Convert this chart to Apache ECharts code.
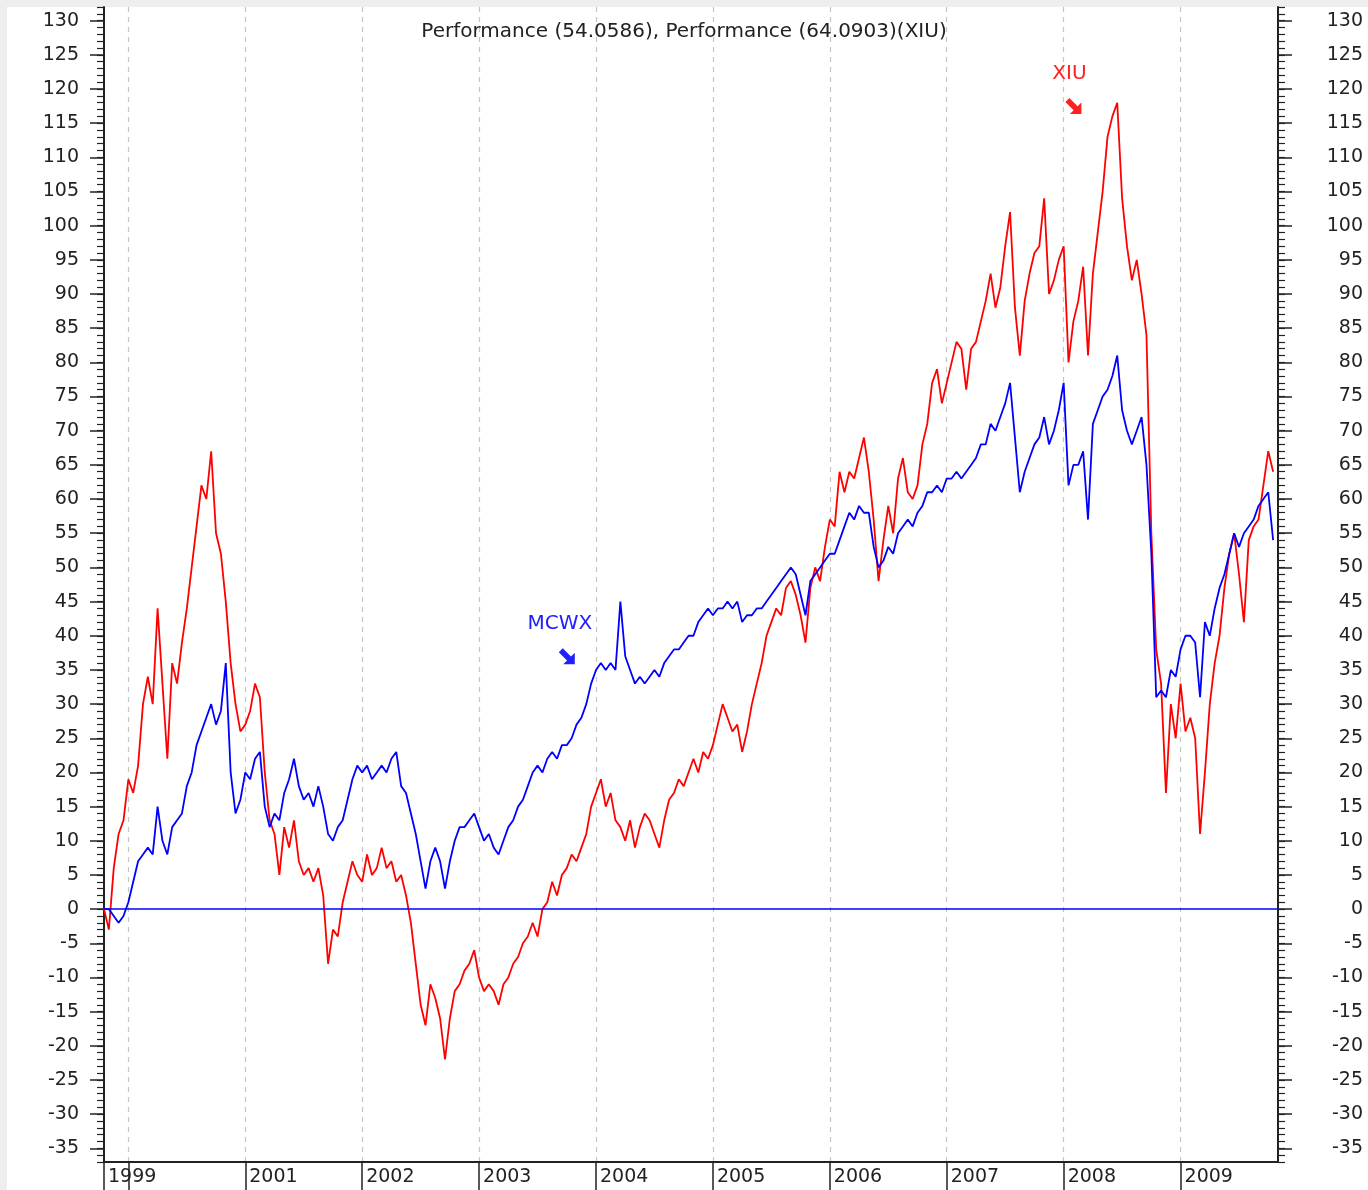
<!DOCTYPE html>
<html>
<head>
<meta charset="utf-8">
<script src="https://cdn.jsdelivr.net/npm/echarts@6.0.0/dist/echarts.min.js"></script>
<style>html,body{margin:0;padding:0;background:#fff;}#chart{width:1368px;height:1190px;}</style>
</head>
<body>
<div id="chart"></div>
<script>
// ---- DATA ----
// semi-monthly sample dates (1st and 16th of each month), Oct 1999 .. Nov 2009
var dates = [];
(function(){ var y=1999,m=10,d=16; while(dates.length<242){ dates.push(y+'-'+(m<10?'0':'')+m+'-'+(d<10?'0':'')+d); if(d===1){d=16;}else{d=1;m++; if(m>12){m=1;y++;}} } })();

var xiu = [0,-3,6,11,13,19,17,21,30,34,30,44,33,22,36,33,39,44,50,56,62,60,67,55,52,45,36,30,26,27,
29,33,31,20,13,11,5,12,9,13,7,5,6,4,6,2,-8,-3,-4,1,4,7,5,4,8,5,6,9,6,7,
4,5,2,-2,-8,-14,-17,-11,-13,-16,-22,-16,-12,-11,-9,-8,-6,-10,-12,-11,-12,-14,-11,-10,-8,-7,-5,-4,-2,-4,
0,1,4,2,5,6,8,7,9,11,15,17,19,15,17,13,12,10,13,9,12,14,13,11,9,13,16,17,19,18,
20,22,20,23,22,24,27,30,28,26,27,23,26,30,33,36,40,42,44,43,47,48,46,43,39,47,50,48,53,57,
56,64,61,64,63,66,69,64,57,48,54,59,55,63,66,61,60,62,68,71,77,79,74,77,80,83,82,76,82,83,
86,89,93,88,91,97,102,88,81,89,93,96,97,104,90,92,95,97,80,86,89,94,81,93,99,105,113,116,118,104,
97,92,95,90,84,55,38,33,17,30,25,33,26,28,25,11,20,30,36,40,47,52,55,49,42,54,56,57,62,67,64];

var mcwx = [0,0,-1,-2,-1,1,4,7,8,9,8,15,10,8,12,13,14,18,20,24,26,28,30,27,29,36,20,14,16,20,
19,22,23,15,12,14,13,17,19,22,18,16,17,15,18,15,11,10,12,13,16,19,21,20,21,19,20,21,20,22,
23,18,17,14,11,7,3,7,9,7,3,7,10,12,12,13,14,12,10,11,9,8,10,12,13,15,16,18,20,21,
20,22,23,22,24,24,25,27,28,30,33,35,36,35,36,35,45,37,35,33,34,33,34,35,34,36,37,38,38,39,
40,40,42,43,44,43,44,44,45,44,45,42,43,43,44,44,45,46,47,48,49,50,49,46,43,48,49,50,51,52,
52,54,56,58,57,59,58,58,53,50,51,53,52,55,56,57,56,58,59,61,61,62,61,63,63,64,63,64,65,66,
68,68,71,70,72,74,77,69,61,64,66,68,69,72,68,70,73,77,62,65,65,67,57,71,73,75,76,78,81,73,
70,68,70,72,65,52,31,32,31,35,34,38,40,40,39,31,42,40,44,47,49,52,55,53,55,56,57,59,60,61,54];

var tickDates  = ['1999-10-16','2000-01-01','2001-01-01','2002-01-01','2003-01-01','2004-01-01','2005-01-01','2006-01-01','2007-01-01','2008-01-01','2009-01-01'];
var tickLabels = ['1999','','2001','2002','2003','2004','2005','2006','2007','2008','2009'];

var titleText = 'Performance (54.0586), Performance (64.0903)(XIU)';
var mcwxNote = {name:'MCWX', date:'2003-10-01', value:37};
var xiuNote  = {name:'XIU',  date:'2008-02-01', value:117.5};

// ---- CHART ----
var FONT = "'DejaVu Sans', sans-serif";
var INK = '#222';
var labelMap = {};
tickDates.forEach(function(d,i){ labelMap[d]=tickLabels[i]; });
var isTick = function(idx, val){ return Object.prototype.hasOwnProperty.call(labelMap, val); };

var arrowPath = 'path://M2.7,0.3 L7.7,5.3 L10,3 L10,10 L3,10 L5.3,7.7 L0.3,2.7 Z';

var chart = echarts.init(document.getElementById('chart'), null, {renderer:'canvas'});

var unit = 1155/169;
var option = {
  animation: false,
  backgroundColor: '#ffffff',
  title: {
    text: titleText, left: 'center', top: 17,
    textStyle: {fontFamily: FONT, fontSize: 20, fontWeight: 'normal', color: INK}
  },
  graphic: [
    {type:'rect', shape:{x:0,y:0,width:1368,height:7}, style:{fill:'#eeeeee'}, silent:true, z:-10},
    {type:'rect', shape:{x:0,y:0,width:7,height:1190}, style:{fill:'#eeeeee'}, silent:true, z:-10}
  ],
  grid: [
    {left:104, right:90, top:7, bottom:28},
    {left:104, right:90, top:7+2*unit, bottom:28+2*unit}
  ],
  xAxis: [
    {
      type:'category', gridIndex:0, data: dates, boundaryGap:false,
      axisLine:{onZero:false, lineStyle:{color:INK, width:2}},
      axisTick:{interval:isTick, length:30, lineStyle:{color:INK, width:1.5}},
      axisLabel:{interval:isTick, formatter:function(v){ return labelMap[v]||''; },
        align:'left', padding:[0,0,0,4], margin:6, fontSize:19, color:INK, fontFamily:FONT},
      splitLine:{show:true, interval:isTick, lineStyle:{type:[5,5], color:'#c4c4c4', width:1.2}}
    },
    {type:'value', gridIndex:1, show:false, min:0, max:1}
  ],
  yAxis: [
    {type:'value', gridIndex:0, position:'left', min:-37, max:132, interval:1,
     axisLine:{show:true, onZero:false, lineStyle:{color:INK, width:2}},
     axisTick:{show:true, length:7, lineStyle:{color:INK, width:1.2}},
     axisLabel:{show:false}, splitLine:{show:false}},
    {type:'value', gridIndex:0, position:'right', min:-37, max:132, interval:1,
     axisLine:{show:true, onZero:false, lineStyle:{color:INK, width:2}},
     axisTick:{show:true, length:7, lineStyle:{color:INK, width:1.2}},
     axisLabel:{show:false}, splitLine:{show:false}},
    {type:'value', gridIndex:1, position:'left', min:-35, max:130, interval:5,
     axisLine:{show:false, onZero:false},
     axisTick:{show:true, length:14, lineStyle:{color:INK, width:1.5}},
     axisLabel:{show:true, margin:25, fontSize:19, color:INK, fontFamily:FONT},
     splitLine:{show:false}},
    {type:'value', gridIndex:1, position:'right', min:-35, max:130, interval:5,
     axisLine:{show:false, onZero:false},
     axisTick:{show:true, length:14, lineStyle:{color:INK, width:1.5}},
     axisLabel:{show:true, margin:85, align:'right', fontSize:19, color:INK, fontFamily:FONT},
     splitLine:{show:false}}
  ],
  series: [
    {
      name:'XIU', type:'line', xAxisIndex:0, yAxisIndex:0, data: xiu,
      showSymbol:false, symbol:'none', color:'#ff0000', z:2,
      lineStyle:{color:'#ff0000', width:1.8},
      markPoint:{
        silent:true,
        data:[{coord:[xiuNote.date, xiuNote.value], value:xiuNote.name}],
        symbol: arrowPath, symbolSize:16,
        itemStyle:{color:'#ff2020'},
        label:{show:true, formatter:xiuNote.name, position:'inside', offset:[-4,-32],
          fontFamily:FONT, fontSize:20, color:'#ff2020'}
      }
    },
    {
      name:'MCWX', type:'line', xAxisIndex:0, yAxisIndex:0, data: mcwx,
      showSymbol:false, symbol:'none', color:'#0000ff', z:3,
      lineStyle:{color:'#0000ff', width:1.8},
      markLine:{
        silent:true, symbol:['none','none'], label:{show:false},
        lineStyle:{color:'#0000ff', type:'solid', width:1.5},
        data:[{yAxis:0}]
      },
      markPoint:{
        silent:true,
        data:[{coord:[mcwxNote.date, mcwxNote.value], value:mcwxNote.name}],
        symbol: arrowPath, symbolSize:16,
        itemStyle:{color:'#2020ff'},
        label:{show:true, formatter:mcwxNote.name, position:'inside', offset:[-7,-32],
          fontFamily:FONT, fontSize:20, color:'#2020ff'}
      }
    }
  ]
};
chart.setOption(option);
</script>
</body>
</html>
